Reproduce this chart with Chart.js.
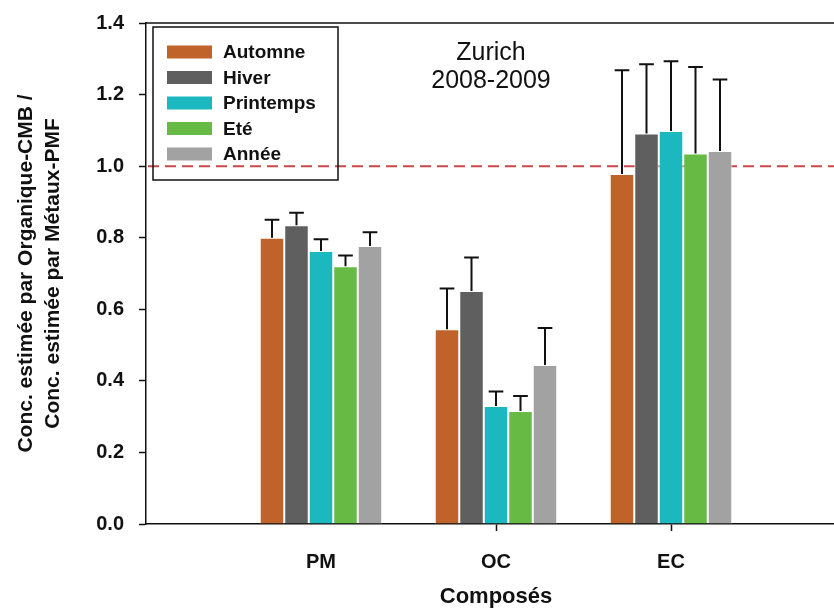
<!DOCTYPE html>
<html>
<head>
<meta charset="utf-8">
<script src="https://cdn.jsdelivr.net/npm/chart.js@4"></script>
<style>
	html, body { margin: 0; padding: 0; background: #fff; overflow: hidden; }
	#chart_div { position: relative; width: 846px; height: 613px; }
</style>
</head>
<body>
<div id="chart_div"><canvas id="chart_canvas"></canvas></div>
<script>
// categories (x axis) and seasons (datasets)
const categories = ['PM', 'OC', 'EC'];
const seasons = ['Automne', 'Hiver', 'Printemps', 'Eté', 'Année'];
const season_colors = ['#c0632a', '#5f5f5f', '#1bb8c0', '#67bb45', '#a2a2a2'];

// ratio values per season, in order PM, OC, EC
const automne = [0.800, 0.544, 0.978];
const hiver = [0.835, 0.651, 1.091];
const printemps = [0.763, 0.330, 1.098];
const ete = [0.720, 0.316, 1.035];
const annee = [0.777, 0.444, 1.042];

// upper error bars (standard deviation)
const automne_err = [0.050, 0.114, 0.290];
const hiver_err = [0.035, 0.094, 0.194];
const printemps_err = [0.033, 0.040, 0.195];
const ete_err = [0.030, 0.042, 0.242];
const annee_err = [0.038, 0.104, 0.200];

const y_ticks = [0.0, 0.2, 0.4, 0.6, 0.8, 1.0, 1.2, 1.4];
const reference_line = 1.0;
const title_lines = ['Zurich', '2008-2009'];

const values = [automne, hiver, printemps, ete, annee];
const errors = [automne_err, hiver_err, printemps_err, ete_err, annee_err];

// empty slots left and right so that the groups sit like in the original figure
const pad = (arr) => [null].concat(arr, [null]);
const labels = pad(categories);

const datasets = seasons.map((name, i) => ({
	label: name,
	data: pad(values[i]),
	err: pad(errors[i]),
	backgroundColor: season_colors[i],
	borderColor: 'rgba(255,255,255,0.7)',
	borderWidth: 1,
	borderSkipped: 'bottom'
}));

const FONT = 'Arial, "Liberation Sans", sans-serif';

const decorations = {
	id: 'decorations',
	beforeDatasetsDraw(chart) {
		let ctx = chart.ctx;
		let area = chart.chartArea;
		let y = chart.scales.y.getPixelForValue(reference_line);
		ctx.save();
		ctx.strokeStyle = '#c8484a';
		ctx.lineWidth = 2;
		ctx.setLineDash([11, 6]);
		ctx.beginPath();
		ctx.moveTo(area.left + 2, y);
		ctx.lineTo(area.right, y);
		ctx.stroke();
		ctx.restore();
	},
	afterDatasetsDraw(chart) {
		let ctx = chart.ctx;
		let y_scale = chart.scales.y;
		ctx.save();
		ctx.strokeStyle = '#111';
		ctx.lineWidth = 2;
		chart.data.datasets.forEach((ds, i) => {
			let meta = chart.getDatasetMeta(i);
			meta.data.forEach((bar, j) => {
				if (ds.data[j] == null) return;
				let top = y_scale.getPixelForValue(ds.data[j] + ds.err[j]);
				let half = bar.width * 0.3;
				ctx.beginPath();
				ctx.moveTo(bar.x, bar.y);
				ctx.lineTo(bar.x, top);
				ctx.moveTo(bar.x - half, top);
				ctx.lineTo(bar.x + half, top);
				ctx.stroke();
			});
		});
		ctx.restore();
	},
	afterDraw(chart) {
		let ctx = chart.ctx;
		let area = chart.chartArea;
		ctx.save();
		// top frame line
		ctx.strokeStyle = '#111';
		ctx.lineWidth = 1.5;
		ctx.beginPath();
		ctx.moveTo(area.left, area.top);
		ctx.lineTo(area.right, area.top);
		ctx.stroke();

		// legend box
		let lx = 153, ly = 27, lw = 185, lh = 153;
		ctx.lineWidth = 1.5;
		ctx.strokeRect(lx, ly, lw, lh);
		ctx.font = 'bold 19px ' + FONT;
		ctx.textBaseline = 'middle';
		chart.data.datasets.forEach((ds, i) => {
			let row_y = 52 + i * 25.5;
			ctx.fillStyle = ds.backgroundColor;
			ctx.fillRect(167, row_y - 6.5, 45, 13);
			ctx.fillStyle = '#111';
			ctx.fillText(ds.label, 223, row_y + 1);
		});

		// title text
		ctx.font = '25px ' + FONT;
		ctx.textAlign = 'center';
		title_lines.forEach((line, i) => {
			ctx.fillText(line, 491, 53 + i * 28);
		});
		ctx.restore();
	}
};

new Chart(document.getElementById('chart_canvas'), {
	type: 'bar',
	data: { labels: labels, datasets: datasets },
	plugins: [decorations],
	options: {
		responsive: true,
		maintainAspectRatio: false,
		animation: false,
		layout: { padding: { top: 23, right: 0, left: 0, bottom: 0 } },
		datasets: {
			bar: { categoryPercentage: 0.7, barPercentage: 1.0 }
		},
		plugins: {
			legend: { display: false },
			tooltip: { enabled: false }
		},
		scales: {
			x: {
				offset: false,
				afterFit: (scale) => { scale.height = 89; },
				grid: {
					offset: false,
					drawOnChartArea: false,
					tickLength: 7,
					tickWidth: 1.5,
					color: (c) => (labels[c.index] ? '#111' : 'rgba(0,0,0,0)')
				},
				border: { display: true, color: '#111', width: 1.5 },
				ticks: {
					color: '#111',
					font: { family: FONT, size: 20, weight: 'bold' },
					padding: 19,
					autoSkip: false,
					maxRotation: 0
				},
				title: {
					display: true,
					text: 'Composés',
					color: '#111',
					font: { family: FONT, size: 22, weight: 'bold' },
					padding: { top: 0, bottom: 3 }
				}
			},
			y: {
				min: y_ticks[0],
				max: y_ticks[y_ticks.length - 1],
				afterFit: (scale) => {
					scale.width = 146;
					// keep the plot top set by layout padding only
					scale.paddingTop = 0;
					scale.paddingBottom = 0;
				},
				afterBuildTicks: (scale) => { scale.ticks = y_ticks.map(v => ({ value: v })); },
				grid: {
					drawOnChartArea: false,
					tickLength: 7,
					tickWidth: 1.5,
					color: '#111'
				},
				border: { display: true, color: '#111', width: 1.5 },
				ticks: {
					color: '#111',
					font: { family: FONT, size: 20, weight: 'bold' },
					padding: 15,
					callback: (v) => Number(v).toFixed(1)
				},
				title: {
					display: true,
					text: ['Conc. estimée par Organique-CMB /', 'Conc. estimée par Métaux-PMF'],
					color: '#111',
					font: { family: FONT, size: 21, weight: 'bold', lineHeight: 1.28 },
					padding: { top: 13, bottom: 0 }
				}
			}
		}
	}
});
</script>
</body>
</html>
